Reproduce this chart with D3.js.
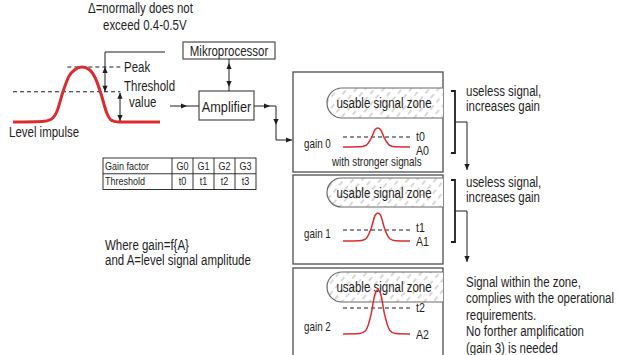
<!DOCTYPE html>
<html><head><meta charset="utf-8">
<script src="https://cdn.jsdelivr.net/npm/d3@7"></script>
<style>
body{margin:0;background:#fff}
svg{display:block}
text{font-family:'Liberation Sans',Arial,sans-serif;fill:#1e1e1e}
</style>
</head><body><svg id="c" width="618" height="355"></svg>
<script>
// ---- data ----
const gainFactors = ["G0","G1","G2","G3"];
const thresholdNames = ["t0","t1","t2","t3"];
const tableRows = ["Gain factor","Threshold"];
const panelGains = ["gain 0","gain 1","gain 2"];
const amplitudeNames = ["A0","A1","A2"];
const panelPeaks = [19, 28, 44];        // signal amplitude (units) per gain step
const panelThresholds = [10, 11, 26];   // threshold level (units) per gain step
const pulseShape = [[0,0],[25,0.01],[34,0.08],[42,0.45],[48,0.92],[52,1],[56,0.92],[62,0.45],[70,0.08],[78,0.01],[100,0]];
const impulseShape = [[0,0],[20,0.01],[26,0.05],[30,0.2],[34,0.55],[38,0.83],[42,0.95],[47,1],[52,0.95],[56,0.8],[60,0.5],[64,0.15],[67,0.03],[72,0],[100,0]];
const impulseLevels = {peak:1, threshold:0.55};
const rightNotes = [["useless signal,","increases gain"],["useless signal,","increases gain"],
  ["Signal within the zone,","complies with the operational","requirements.","No forther amplification","(gain 3) is needed"]];

// ---- drawing ----
const svg = d3.select("#c");
const ink = "#1e1e1e", boxStroke = "#4d4d4d", red = "#dc2b2f";
const NARROW = 0.82;

const defs = svg.append("defs");
const pat = defs.append("pattern").attr("id","hatch").attr("patternUnits","userSpaceOnUse")
  .attr("width",7).attr("height",9).attr("patternTransform","rotate(40)");
pat.append("rect").attr("width",7).attr("height",9).attr("fill","#fff");
pat.append("line").attr("x1",1).attr("y1",0).attr("x2",1).attr("y2",5)
  .attr("stroke","#a9a9a9").attr("stroke-width",0.9);

function arrowHead(x, y, dir){
  const a = {right:0, down:90, left:180, up:-90}[dir];
  svg.append("path").attr("d","M0,0 L-6,-2.6 L-6,2.6 Z").attr("fill",ink)
    .attr("transform",`translate(${x},${y}) rotate(${a})`);
}
function poly(pts, opts={}){
  return svg.append("path").attr("d", d3.line()(pts)).attr("fill","none")
    .attr("stroke", opts.stroke||ink).attr("stroke-width", opts.w||1)
    .attr("stroke-dasharray", opts.dash||null);
}
function txt(x, y, s, size, anchor){
  return svg.append("text").attr("transform",`translate(${x},${y}) scale(${NARROW},1)`)
    .attr("font-size",size).attr("text-anchor",anchor||"start").text(s);
}

// ---- left: level impulse ----
const ix = d3.scaleLinear().domain([0,100]).range([13,160]);
const iy = d3.scaleLinear().domain([0,1]).range([122,67]);
poly([[ix(37),iy(impulseLevels.peak)],[ix(73),iy(impulseLevels.peak)]],{dash:"4,3"});
poly([[ix(0),iy(impulseLevels.threshold)],[ix(73),iy(impulseLevels.threshold)]],{dash:"4,3"});
svg.append("path").datum(impulseShape)
  .attr("d", d3.line().x(d=>ix(d[0])).y(d=>iy(d[1])).curve(d3.curveMonotoneX))
  .attr("fill","none").attr("stroke",red).attr("stroke-width",3);
// delta bracket
poly([[165,52],[105,52],[105,iy(impulseLevels.threshold)]]);
arrowHead(105, iy(impulseLevels.peak), "up");
arrowHead(105, iy(impulseLevels.threshold), "down");
poly([[120,iy(impulseLevels.threshold)+1],[120,iy(0)-1]]);
arrowHead(120, iy(impulseLevels.threshold)+1, "up");
arrowHead(120, iy(0)-1, "down");
txt(88,13,"\u0394=normally does not",14);
txt(103,30,"exceed 0.4-0.5V",14);
txt(124,72,"Peak",14);
txt(124,91,"Threshold",14);
txt(129,107,"value",14);
txt(9,137,"Level impulse",14);

// ---- blocks ----
svg.append("rect").attr("x",183).attr("y",42).attr("width",92).attr("height",17)
  .attr("fill","#fff").attr("stroke",boxStroke).attr("stroke-width",1.2);
txt(229,55.5,"Mikroprocessor",14,"middle");
svg.append("rect").attr("x",199).attr("y",91).attr("width",55).attr("height",29)
  .attr("fill","#fff").attr("stroke",boxStroke).attr("stroke-width",1.2);
txt(226.5,111.5,"Amplifier",15.5,"middle");
poly([[229,59],[229,91]]);
arrowHead(229,63,"up"); arrowHead(229,87,"down");
poly([[170,106],[199,106]]); arrowHead(187,106,"right");
poly([[254,106],[276,106],[276,140],[292,140]]);
arrowHead(270,106,"right"); arrowHead(276,125,"down"); arrowHead(292,140,"right");

// ---- table ----
const colX = d3.scaleBand().domain(gainFactors).range([172,256]);
const rowY = d3.scaleBand().domain(tableRows).range([158,189.5]);
const tg = svg.append("g");
tg.append("rect").attr("x",103).attr("y",158).attr("width",153).attr("height",31.5)
  .attr("fill","none").attr("stroke",ink).attr("stroke-width",0.9);
tg.append("line").attr("x1",103).attr("x2",256).attr("y1",rowY("Threshold")).attr("y2",rowY("Threshold"))
  .attr("stroke",ink).attr("stroke-width",0.9);
gainFactors.forEach(g=>{
  tg.append("line").attr("x1",colX(g)).attr("x2",colX(g)).attr("y1",158).attr("y2",189.5)
    .attr("stroke",ink).attr("stroke-width",0.9);
});
tableRows.forEach(r=>txt(105, rowY(r)+11.5, r, 11));
gainFactors.forEach((g,i)=>{
  txt(colX(g)+colX.bandwidth()/2, rowY("Gain factor")+11.5, g, 11, "middle");
  txt(colX(g)+colX.bandwidth()/2, rowY("Threshold")+11.5, thresholdNames[i], 11, "middle");
});
txt(105,250,"Where gain=f{A}",14);
txt(105,265,"and A=level signal amplitude",14);

// ---- panels ----
const panels = [
  {top:72, bottom:172, pill:[88,118], base:147, lab:[148,141,155]},
  {top:175, bottom:264, pill:[178,207], base:241, lab:[238,232,246]},
  {top:268, bottom:362, pill:[272,302], base:334, lab:[331,312,339]}
];
const px = d3.scaleLinear().domain([0,100]).range([343,410]);
panels.forEach((p,i)=>{
  svg.append("rect").attr("x",293).attr("y",p.top).attr("width",150).attr("height",p.bottom-p.top)
    .attr("fill","#fff").attr("stroke",boxStroke).attr("stroke-width",1.3);
  const x0=327, x1=443, y0=p.pill[0], y1=p.pill[1], r=(y1-y0)/2;
  svg.append("path").attr("d",`M${x1},${y0} H${x0+r} A${r},${r} 0 0 0 ${x0+r},${y1} H${x1}`)
    .attr("fill","url(#hatch)").attr("stroke","#6a6a6a").attr("stroke-width",1.2);
  txt(384,(y0+y1)/2+5,"usable signal zone",14,"middle");
  const py = d3.scaleLinear().domain([0,50]).range([p.base,p.base-50]);
  poly([[px(0),py(panelThresholds[i])],[px(100),py(panelThresholds[i])]],{dash:"4,3"});
  svg.append("path").datum(pulseShape)
    .attr("d", d3.line().x(d=>px(d[0])).y(d=>py(d[1]*panelPeaks[i])).curve(d3.curveMonotoneX))
    .attr("fill","none").attr("stroke",red).attr("stroke-width",1.5);
  txt(304,p.lab[0],panelGains[i],12);
  txt(416,p.lab[1],thresholdNames[i],13);
  txt(416,p.lab[2],amplitudeNames[i],13);
});
txt(332,166,"with stronger signals",12);

// ---- brackets & notes ----
[{y0:91,y1:153,my:122,tip:170,ty:96},{y0:180,y1:242,my:211,tip:262,ty:187}].forEach((b,i)=>{
  poly([[451,b.y0],[455,b.y0],[455,b.y1],[451,b.y1]],{w:1.8});
  poly([[455,b.my],[467,b.my],[467,b.tip]]);
  arrowHead(467,b.tip,"down");
  rightNotes[i].forEach((s,k)=>txt(466,b.ty+k*15,s,14));
});
rightNotes[2].forEach((s,k)=>txt(466,286.5+k*16.5,s,14));
</script></body></html>
